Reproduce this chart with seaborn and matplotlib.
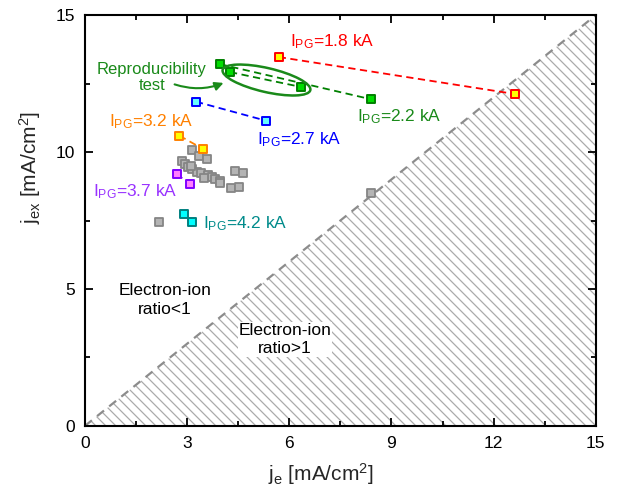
import matplotlib
matplotlib.use("Agg")
import matplotlib.pyplot as plt
import matplotlib.transforms as mtransforms
from matplotlib.patches import Ellipse
import seaborn as sns
import pandas as pd

# Discharge current density j_e vs extracted current density j_ex [mA/cm^2]
gray_je = [2.17, 3.15, 3.35, 3.59, 2.86, 2.95, 3.03, 3.15, 3.28, 3.42, 3.62,
           3.72, 3.82, 3.96, 3.96, 4.40, 4.63, 4.30, 4.52, 8.41, 3.10, 3.50]
gray_jex = [7.46, 10.07, 9.87, 9.73, 9.67, 9.56, 9.46, 9.38, 9.28, 9.22, 9.16,
            9.10, 9.00, 8.95, 8.86, 9.32, 9.25, 8.67, 8.73, 8.49, 9.50, 9.05]

# Paired operating points at fixed plasma-generator current
pair_labels = ["1.8", "2.2", "2.2", "2.7", "3.2", "3.7", "4.2"]
pair_je = [[5.69, 12.62], [3.96, 8.39], [4.26, 6.33], [3.26, 5.33],
           [2.77, 3.47], [2.69, 3.08], [2.92, 3.15]]
pair_jex = [[13.47, 12.12], [13.21, 11.93], [12.92, 12.38], [11.84, 11.14],
            [10.60, 10.11], [9.20, 8.83], [7.75, 7.45]]
pair_edge = ["#ff0000", "#008000", "#008000", "#0000ff", "#ff8000", "#8000ff", "#008080"]
pair_face = ["#ffff00", "#00dd00", "#00dd00", "#66ffff", "#ffff00", "#ff80ff", "#00ffff"]

# Current labels: text, color, position
label_currents = ["1.8", "2.2", "2.7", "3.2", "3.7", "4.2"]
label_colors = ["#ff0000", "#1a8a1a", "#0000ff", "#ff8000", "#9933ff", "#008b8b"]
label_x = [6.02, 8.00, 5.04, 0.70, 0.24, 3.47]
label_y = [13.87, 11.11, 10.28, 10.95, 8.37, 7.21]

x_ticks = [0, 3, 6, 9, 12, 15]
y_ticks = [0, 5, 10, 15]

DPI = 120
k = 100 / DPI  # point sizes below are given for a 100-dpi canvas

sns.set_theme(style="ticks")
plt.rcParams["font.family"] = ["Liberation Sans", "DejaVu Sans"]
plt.rcParams["mathtext.fontset"] = "custom"
plt.rcParams["mathtext.rm"] = "Liberation Sans"
plt.rcParams["mathtext.it"] = "Liberation Sans:italic"
plt.rcParams["hatch.linewidth"] = 0.9 * k

fig = plt.figure(figsize=(620 / DPI, 504 / DPI), dpi=DPI)
ax = fig.add_axes([0.137, 0.155, 0.824, 0.815])

# Region where electron-ion ratio > 1 (below the diagonal)
diag = [0, 15]
ax.fill_between(diag, [0, 0], diag, facecolor="none", edgecolor="#ababab",
                hatch="\\\\\\\\", linewidth=0, zorder=0)
ax.plot(diag, diag, color="#8c8c8c", lw=1.6 * k, ls=(0, (4, 3)), zorder=1)

# Background measurements
gray_df = pd.DataFrame({"je": gray_je, "jex": gray_jex})
sns.scatterplot(data=gray_df, x="je", y="jex", ax=ax, marker="s", s=30 * k * k,
                color="#b4b4b4", edgecolor="#858585", linewidth=1.3 * k, zorder=3)

# Paired points with dashed connectors
for xs, ys, ec, fc in zip(pair_je, pair_jex, pair_edge, pair_face):
    ax.plot(xs, ys, color=ec, lw=1.3 * k, ls=(0, (4, 2.5)), zorder=4)
    df = pd.DataFrame({"je": xs, "jex": ys})
    sns.scatterplot(data=df, x="je", y="jex", ax=ax, marker="s", s=30 * k * k,
                    color=fc, edgecolor=ec, linewidth=1.4 * k, zorder=5)

for cur, col, lx, ly in zip(label_currents, label_colors, label_x, label_y):
    ax.text(lx, ly, r"$\mathregular{I_{PG}}$=" + cur + " kA", color=col,
            fontsize=12.5 * k, ha="left", va="baseline", zorder=6)

# Reproducibility test highlight
green = "#1a8a1a"
ell_trans = fig.dpi_scale_trans + mtransforms.ScaledTranslation(5.33, 12.63, ax.transData)
ax.add_patch(Ellipse((0, 0), 0.90 * k, 0.24 * k, angle=-13, transform=ell_trans,
                     facecolor="none", edgecolor=green, lw=1.8 * k, zorder=6))
ax.text(1.97, 12.72, "Reproducibility\ntest", color=green, fontsize=12 * k,
        ha="center", va="center", linespacing=1.15, zorder=6)
ax.annotate("", xy=(4.16, 12.57), xytext=(2.54, 12.51),
            arrowprops=dict(arrowstyle="-|>,head_length=0.5,head_width=0.25",
                            mutation_scale=10 * k,
                            connectionstyle="arc3,rad=0.2", color=green, lw=1.5 * k),
            zorder=6)

ax.text(2.35, 4.6, "Electron-ion\nratio<1", fontsize=12.5 * k, ha="center", va="center",
        linespacing=1.3, color="black", zorder=6)
ax.text(5.87, 3.15, "Electron-ion\nratio>1", fontsize=12.5 * k, ha="center", va="center",
        linespacing=1.3, color="black", zorder=6,
        bbox=dict(facecolor="white", edgecolor="none", pad=0.5))

ax.set_xlim(0, 15)
ax.set_ylim(0, 15)
ax.set_xticks(x_ticks)
ax.set_yticks(y_ticks)
ax.set_xticks([1.5, 4.5, 7.5, 10.5, 13.5], minor=True)
ax.set_yticks([2.5, 7.5, 12.5], minor=True)
ax.tick_params(which="both", direction="in", top=True, right=True,
               width=1.3 * k, color="black", labelsize=12.5 * k, labelcolor="black")
ax.tick_params(which="major", length=6 * k, pad=7 * k)
ax.tick_params(which="minor", length=3.5 * k)
for sp in ax.spines.values():
    sp.set_linewidth(1.5 * k)
    sp.set_color("black")

ax.set_xlabel(r"$\mathregular{j_e}$ [mA/cm$\mathregular{^2}$]", fontsize=15 * k)
ax.set_ylabel(r"$\mathregular{j_{ex}}$ [mA/cm$\mathregular{^2}$]", fontsize=15 * k)
ax.xaxis.set_label_coords(0.462, -0.085)
ax.yaxis.set_label_coords(-0.082, 0.63)
if ax.get_legend() is not None:
    ax.get_legend().remove()

fig.savefig("out.png", dpi=DPI, facecolor="white")
